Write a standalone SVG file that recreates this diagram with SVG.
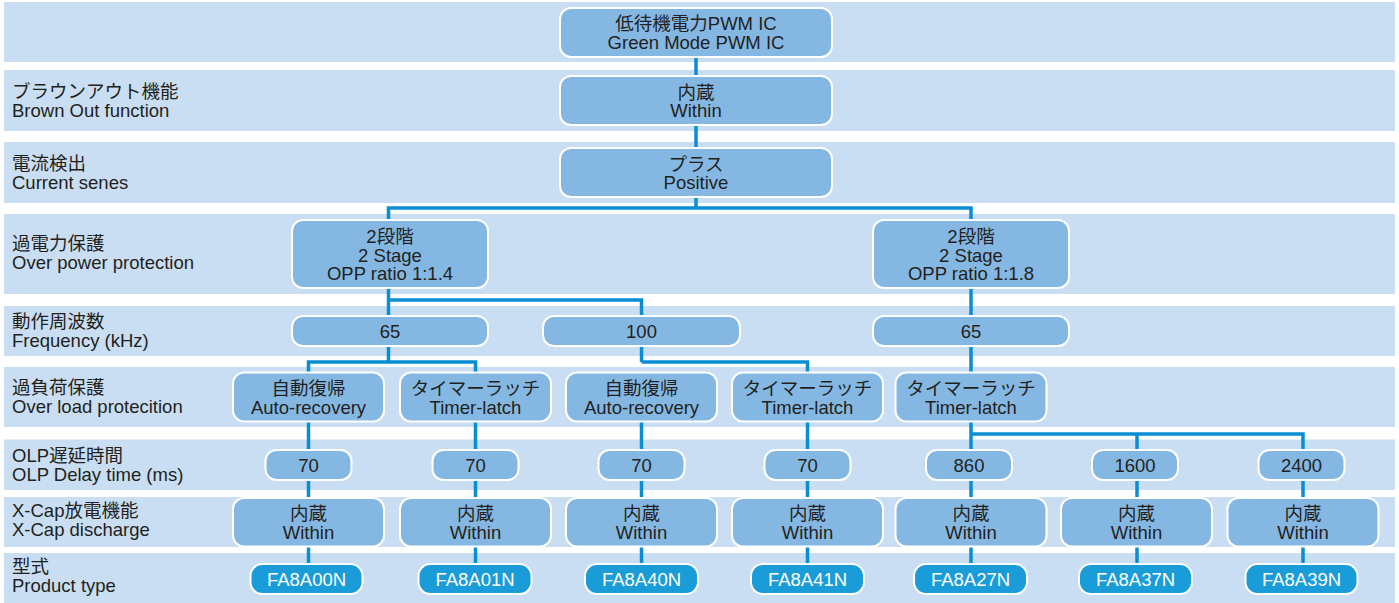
<svg xmlns="http://www.w3.org/2000/svg" width="1399" height="603" viewBox="0 0 1399 603">
<style>
text{font-family:"Liberation Sans","Noto Sans CJK JP",sans-serif;font-size:18.5px;fill:#231f20}
.band{fill:#c9def2}
.n rect{fill:#84b8e3;stroke:#ffffff;stroke-width:2}
.n text{text-anchor:middle}
.p rect{fill:#1a9cd8;stroke:#ffffff;stroke-width:2}
.p text{text-anchor:middle;fill:#ffffff}
#connectors path{fill:none;stroke:#0a8ed3;stroke-width:3.5}
</style>
<rect width="1399" height="603" fill="#ffffff"/>
<g id="bands">
<rect class="band" x="4" y="2" width="1391" height="60"/>
<rect class="band" x="4" y="70" width="1391" height="61"/>
<rect class="band" x="4" y="142" width="1391" height="61"/>
<rect class="band" x="4" y="214" width="1391" height="80"/>
<rect class="band" x="4" y="306" width="1391" height="50"/>
<rect class="band" x="4" y="367" width="1391" height="60"/>
<rect class="band" x="4" y="439.5" width="1391" height="50.5"/>
<rect class="band" x="4" y="497" width="1391" height="50"/>
<rect class="band" x="4" y="553" width="1391" height="50"/>
</g>
<g id="labels">
<text x="12" y="98">ブラウンアウト機能</text><text x="12" y="116.5">Brown Out function</text>
<text x="12" y="170">電流検出</text><text x="12" y="188.5">Current senes</text>
<text x="12" y="250">過電力保護</text><text x="12" y="268.5">Over power protection</text>
<text x="12" y="328">動作周波数</text><text x="12" y="346.5">Frequency (kHz)</text>
<text x="12" y="394">過負荷保護</text><text x="12" y="412.5">Over load protecition</text>
<text x="12" y="462">OLP遅延時間</text><text x="12" y="480.5">OLP Delay time (ms)</text>
<text x="12" y="517">X-Cap放電機能</text><text x="12" y="535.5">X-Cap discharge</text>
<text x="12" y="573">型式</text><text x="12" y="591.5">Product type</text>
</g>
<g id="connectors">
<path d="M696 57V76M696 125V148M696 197V208"/>
<path d="M388.5 208H971M388.5 206.3V220M971 206.3V220"/>
<path d="M388.5 288V316M388.5 300H641.5M641.5 298.3V316M971 288V316"/>
<path d="M388.5 346V362M308.5 362H475.5M308.5 360.3V373M475.5 360.3V373"/>
<path d="M641.5 346V362M641.5 362H807.5M807.5 360.3V373"/>
<path d="M971 346V373"/>
<path d="M308.5 421V450M475.5 421V450M641.5 421V450M807.5 421V450M971 421V450"/>
<path d="M971 434H1303M1137 432.3V450M1303 432.3V450"/>
<path d="M308.5 480V564M475.5 480V564M641.5 480V564M807.5 480V564M971 480V564M1137 480V564M1303 480V564"/>
</g>
<g id="n-top" class="n"><rect x="560" y="8" width="272" height="49" rx="11"/><text x="696" y="30">低待機電力PWM IC</text><text x="696" y="49">Green Mode PWM IC</text></g>
<g id="n-brownout" class="n"><rect x="560" y="76" width="272" height="49" rx="11"/><text x="696" y="98.5">内蔵</text><text x="696" y="117">Within</text></g>
<g id="n-current" class="n"><rect x="560" y="148" width="272" height="49" rx="11"/><text x="696" y="170.5">プラス</text><text x="696" y="189">Positive</text></g>
<g id="n-opp14" class="n"><rect x="292" y="220" width="196" height="68" rx="11"/><text x="390" y="243">2段階</text><text x="390" y="261.5">2 Stage</text><text x="390" y="280">OPP ratio 1:1.4</text></g>
<g id="n-opp18" class="n"><rect x="873" y="220" width="196" height="68" rx="11"/><text x="971" y="243">2段階</text><text x="971" y="261.5">2 Stage</text><text x="971" y="280">OPP ratio 1:1.8</text></g>
<g id="n-f65a" class="n"><rect x="292" y="316" width="196" height="30" rx="11"/><text x="390" y="337.5">65</text></g>
<g id="n-f100" class="n"><rect x="543" y="316" width="197" height="30" rx="11"/><text x="641.5" y="337.5">100</text></g>
<g id="n-f65b" class="n"><rect x="873" y="316" width="196" height="30" rx="11"/><text x="971" y="337.5">65</text></g>
<g id="n-olp1" class="n"><rect x="233" y="372.5" width="151" height="49" rx="11"/><text x="308.5" y="395">自動復帰</text><text x="308.5" y="414">Auto-recovery</text></g>
<g id="n-olp2" class="n"><rect x="400" y="372.5" width="151" height="49" rx="11"/><text x="475.5" y="395">タイマーラッチ</text><text x="475.5" y="414">Timer-latch</text></g>
<g id="n-olp3" class="n"><rect x="566" y="372.5" width="151" height="49" rx="11"/><text x="641.5" y="395">自動復帰</text><text x="641.5" y="414">Auto-recovery</text></g>
<g id="n-olp4" class="n"><rect x="732" y="372.5" width="151" height="49" rx="11"/><text x="807.5" y="395">タイマーラッチ</text><text x="807.5" y="414">Timer-latch</text></g>
<g id="n-olp5" class="n"><rect x="895.5" y="372.5" width="151" height="49" rx="11"/><text x="971" y="395">タイマーラッチ</text><text x="971" y="414">Timer-latch</text></g>
<g id="n-d1" class="n"><rect x="265.5" y="450" width="86" height="30" rx="11"/><text x="308.5" y="471.5">70</text></g>
<g id="n-d2" class="n"><rect x="432.5" y="450" width="86" height="30" rx="11"/><text x="475.5" y="471.5">70</text></g>
<g id="n-d3" class="n"><rect x="598.5" y="450" width="86" height="30" rx="11"/><text x="641.5" y="471.5">70</text></g>
<g id="n-d4" class="n"><rect x="764.5" y="450" width="86" height="30" rx="11"/><text x="807.5" y="471.5">70</text></g>
<g id="n-d5" class="n"><rect x="926" y="450" width="86" height="30" rx="11"/><text x="969" y="471.5">860</text></g>
<g id="n-d6" class="n"><rect x="1092" y="450" width="86" height="30" rx="11"/><text x="1135" y="471.5">1600</text></g>
<g id="n-d7" class="n"><rect x="1258.5" y="450" width="86" height="30" rx="11"/><text x="1301.5" y="471.5">2400</text></g>
<g id="n-x1" class="n"><rect x="233" y="498" width="151" height="48.5" rx="11"/><text x="308.5" y="520">内蔵</text><text x="308.5" y="538.5">Within</text></g>
<g id="n-x2" class="n"><rect x="400" y="498" width="151" height="48.5" rx="11"/><text x="475.5" y="520">内蔵</text><text x="475.5" y="538.5">Within</text></g>
<g id="n-x3" class="n"><rect x="566" y="498" width="151" height="48.5" rx="11"/><text x="641.5" y="520">内蔵</text><text x="641.5" y="538.5">Within</text></g>
<g id="n-x4" class="n"><rect x="732" y="498" width="151" height="48.5" rx="11"/><text x="807.5" y="520">内蔵</text><text x="807.5" y="538.5">Within</text></g>
<g id="n-x5" class="n"><rect x="895.5" y="498" width="151" height="48.5" rx="11"/><text x="971" y="520">内蔵</text><text x="971" y="538.5">Within</text></g>
<g id="n-x6" class="n"><rect x="1061" y="498" width="151" height="48.5" rx="11"/><text x="1136.5" y="520">内蔵</text><text x="1136.5" y="538.5">Within</text></g>
<g id="n-x7" class="n"><rect x="1227.5" y="498" width="151" height="48.5" rx="11"/><text x="1303" y="520">内蔵</text><text x="1303" y="538.5">Within</text></g>
<g id="p1" class="p"><rect x="250.5" y="564" width="112" height="30" rx="12"/><text x="306.5" y="585.5">FA8A00N</text></g>
<g id="p2" class="p"><rect x="418.5" y="564" width="113" height="30" rx="12"/><text x="475" y="585.5">FA8A01N</text></g>
<g id="p3" class="p"><rect x="585" y="564" width="113" height="30" rx="12"/><text x="641.5" y="585.5">FA8A40N</text></g>
<g id="p4" class="p"><rect x="751" y="564" width="113" height="30" rx="12"/><text x="807.5" y="585.5">FA8A41N</text></g>
<g id="p5" class="p"><rect x="914" y="564" width="113" height="30" rx="12"/><text x="970.5" y="585.5">FA8A27N</text></g>
<g id="p6" class="p"><rect x="1079" y="564" width="113" height="30" rx="12"/><text x="1135.5" y="585.5">FA8A37N</text></g>
<g id="p7" class="p"><rect x="1245.5" y="564" width="112" height="30" rx="12"/><text x="1301.5" y="585.5">FA8A39N</text></g>
</svg>
